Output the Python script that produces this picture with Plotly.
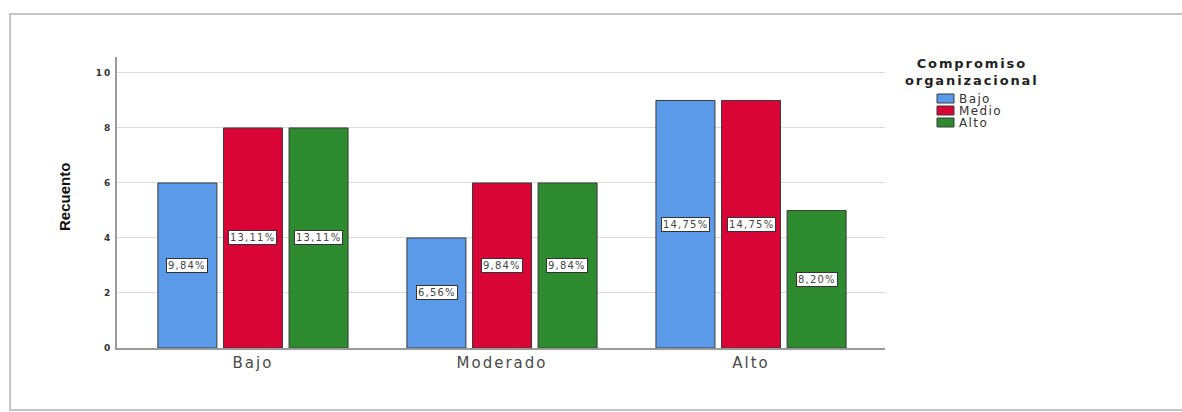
import plotly.graph_objects as go

# Categories of the x axis (Estrés laboral level)
categories = ["Bajo", "Moderado", "Alto"]

# Counts per organizational-commitment level
legend_title = ["Compromiso", "organizacional"]
series_names = ["Bajo", "Medio", "Alto"]
bajo_counts = [6, 4, 9]
medio_counts = [8, 6, 9]
alto_counts = [8, 6, 5]

# Percentage labels shown inside each bar
bajo_pct = ["9,84%", "6,56%", "14,75%"]
medio_pct = ["13,11%", "9,84%", "14,75%"]
alto_pct = ["13,11%", "9,84%", "8,20%"]

y_ticks = [0, 2, 4, 6, 8, 10]
y_title = "Recuento"

colors = ["#5b9ae8", "#d80536", "#2e8a2e"]
all_counts = [bajo_counts, medio_counts, alto_counts]
all_pct = [bajo_pct, medio_pct, alto_pct]

WIDE = "DejaVu Sans, Verdana, sans-serif"


def spaced(text, px):
    return f'<span style="letter-spacing:{px}px">{text}</span>'


fig = go.Figure()
for name, vals, col in zip(series_names, all_counts, colors):
    fig.add_trace(go.Bar(
        x=categories, y=vals, name=name,
        marker=dict(color=col, line=dict(color="#3a3a3a", width=1)),
        showlegend=False,
    ))

# Boxed percentage labels centred on each bar
slot = 0.263
offsets = [-slot, 0.0, slot]
annotations = []
for s, (vals, pcts) in enumerate(zip(all_counts, all_pct)):
    for i, (v, p) in enumerate(zip(vals, pcts)):
        annotations.append(dict(
            x=i + offsets[s], y=v / 2, xref="x", yref="y",
            text=spaced(p, 1.2), showarrow=False,
            font=dict(family=WIDE, size=10, color="#444444"),
            bgcolor="white", bordercolor="#333333", borderwidth=1, borderpad=1,
        ))

# Pixel helpers for placing items outside the plot area
plot_l, plot_w, plot_b, plot_h = 117, 768, 348, 291


def px_x(v):
    return (v - plot_l) / plot_w


def px_y(v):
    return (plot_b - v) / plot_h


# Rotated y-axis title
annotations.append(dict(
    x=px_x(64), y=px_y(197), xref="paper", yref="paper",
    xanchor="center", yanchor="middle", showarrow=False, textangle=-90,
    text="<b>" + y_title + "</b>",
    font=dict(family="Liberation Sans, Arial, sans-serif", size=15, color="#111111"),
))

# Legend block to the right of the plot area
annotations.append(dict(
    x=px_x(972), y=px_y(72), xref="paper", yref="paper",
    xanchor="center", yanchor="middle", showarrow=False,
    text="<br>".join("<b>" + spaced(line, 1.9) + "</b>" for line in legend_title),
    font=dict(family=WIDE, size=13, color="#222222"),
))

shapes = []
item_tops = [94, 106, 118]
for name, col, top in zip(series_names, colors, item_tops):
    shapes.append(dict(
        type="rect", xref="paper", yref="paper",
        x0=px_x(937), x1=px_x(954), y0=px_y(top + 9), y1=px_y(top),
        fillcolor=col, line=dict(color="#3a3a3a", width=1),
    ))
    annotations.append(dict(
        x=px_x(957), y=px_y(top + 4.5), xref="paper", yref="paper",
        xanchor="left", yanchor="middle", showarrow=False,
        text=spaced(name, 1.4),
        font=dict(family=WIDE, size=12, color="#333333"),
    ))

# Outer frame around the whole chart
shapes.append(dict(
    type="rect", xref="paper", yref="paper",
    x0=px_x(10), x1=px_x(1300), y0=px_y(410), y1=px_y(14),
    line=dict(color="#c4c4c4", width=2), fillcolor="rgba(0,0,0,0)", layer="below",
))

fig.update_layout(
    width=1182, height=412,
    margin=dict(l=117, r=297, t=57, b=64),
    paper_bgcolor="white", plot_bgcolor="white",
    barmode="group", bargap=0.21, bargroupgap=0.1,
    font=dict(family=WIDE, color="#333333"),
    showlegend=False,
    annotations=annotations,
    shapes=shapes,
)

fig.update_xaxes(
    range=[-0.546, 2.538], showgrid=False,
    showline=True, linecolor="#9a9a9a", linewidth=2,
    ticks="", tickvals=categories,
    ticktext=[spaced(c, 2) for c in categories],
    tickfont=dict(size=15, color="#4a4a4a", family=WIDE),
    fixedrange=True,
)
fig.update_yaxes(
    range=[0, 10.58], tickvals=y_ticks,
    ticktext=["<b>" + spaced(t, 2) + "</b>" for t in y_ticks],
    showgrid=True, gridcolor="#dadada", gridwidth=1,
    showline=True, linecolor="#9a9a9a", linewidth=2,
    ticks="", ticklabelstandoff=1,
    tickfont=dict(size=9, color="#333333", family=WIDE),
    zeroline=False,
)

fig.write_html("out.html")
